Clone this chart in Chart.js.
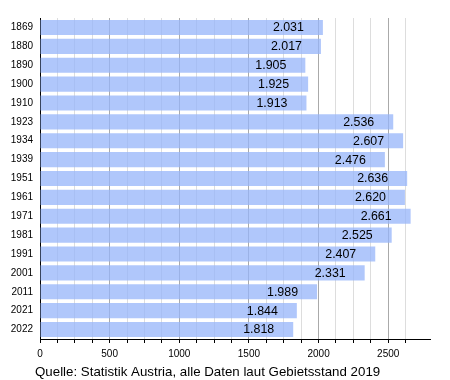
<!DOCTYPE html>
<html><head><meta charset="utf-8">
<script src="https://cdn.jsdelivr.net/npm/chart.js@4/dist/chart.umd.min.js"></script>
<style>html,body{margin:0;padding:0;background:#fff}#wrap{width:450px;height:380px;position:relative}</style>
</head><body><div id="wrap"><canvas id="c"></canvas></div>
<script>
const years = ['1869','1880','1890','1900','1910','1923','1934','1939','1951','1961','1971','1981','1991','2001','2011','2021','2022'];
const population = [2031,2017,1905,1925,1913,2536,2607,2476,2636,2620,2661,2525,2407,2331,1989,1844,1818];
const sourceText = 'Quelle: Statistik Austria, alle Daten laut Gebietsstand 2019';
const FONT = '"Liberation Sans", Arial, Helvetica, sans-serif';

function fmt(v){ return String(v).replace(/\B(?=(\d{3})+(?!\d))/g,'.'); }

const labelPlugin = {
  id:'valueLabels',
  afterDatasetsDraw(chart){
    const ctx = chart.ctx;
    const meta = chart.getDatasetMeta(0);
    ctx.save();
    ctx.font = '12.4px ' + FONT;
    ctx.fillStyle = '#000';
    ctx.textAlign = 'right';
    ctx.textBaseline = 'middle';
    meta.data.forEach((bar,i)=>{
      ctx.fillText(fmt(population[i]), bar.x - 19, bar.y + 0.5);
    });
    ctx.restore();
  },
  afterDraw(chart){
    const ctx = chart.ctx;
    ctx.save();
    ctx.font = '13.3px ' + FONT;
    ctx.fillStyle = '#000';
    ctx.textAlign = 'left';
    ctx.textBaseline = 'alphabetic';
    ctx.fillText(sourceText, 35, 375.5);
    ctx.restore();
  }
};

new Chart(document.getElementById('c'), {
  type:'bar',
  data:{ labels: years, datasets:[{ data: population, backgroundColor:'rgba(150,180,250,0.75)', borderWidth:0, barPercentage:0.8, categoryPercentage:1.0 }]},
  options:{
    indexAxis:'y', responsive:true, maintainAspectRatio:false, animation:false,
    layout:{ padding:{ left:0, right:20, top:18, bottom:20 } },
    plugins:{ legend:{display:false}, tooltip:{enabled:false} },
    scales:{
      x:{
        min:0, max:2800,
        afterFit(s){ s.height = 21; },
        border:{ color:'#000', width:1 },
        grid:{
          color:(c)=> (c.tick && c.tick.value % 500 === 0) ? '#aaaaaa' : ((c.tick && c.tick.value % 125 === 0) ? '#dddddd' : 'rgba(0,0,0,0)'),
          tickColor:(c)=> (c.tick && c.tick.value % 125 === 0 && c.tick.value < 2800) ? '#000' : 'rgba(0,0,0,0)',
          tickLength:4, drawOnChartArea:true
        },
        ticks:{ stepSize:125, autoSkip:false, maxRotation:0, padding:5, color:'#000', font:{ family:FONT, size:10 },
          callback:(v)=> (v % 500 === 0 && v < 2800) ? String(v) : '' }
      },
      y:{
        afterFit(s){ s.width = 40; },
        border:{ color:'#000', width:1 },
        grid:{ display:false, drawTicks:false },
        ticks:{ padding:7, color:'#000', font:{ family:FONT, size:10 } }
      }
    }
  },
  plugins:[labelPlugin]
});
</script></body></html>
